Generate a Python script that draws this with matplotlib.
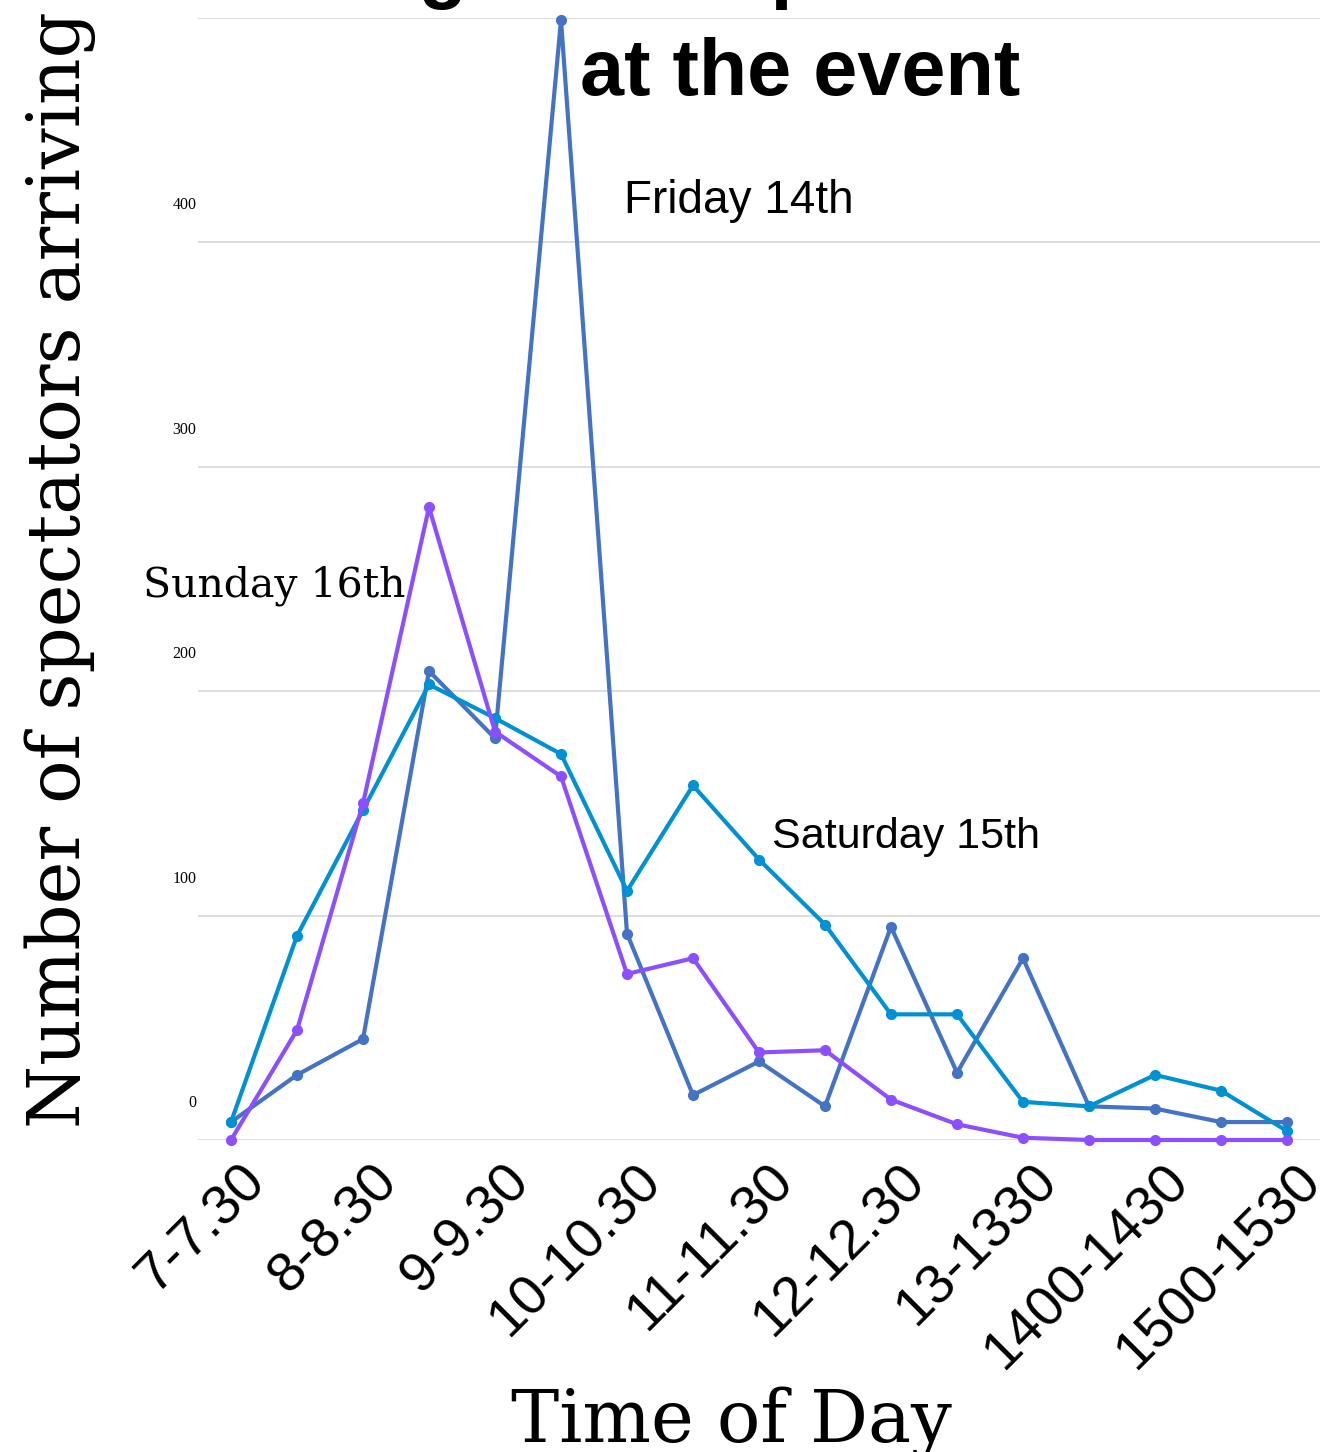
import numpy as np
import matplotlib
matplotlib.use("Agg")
import matplotlib.pyplot as plt
from matplotlib.transforms import ScaledTranslation

# time slots (every other one is labelled on the axis)
slots = ["7-7.30", "7.30-8", "8-8.30", "8.30-9", "9-9.30", "9.30-10",
         "10-10.30", "10.30-11", "11-11.30", "11.30-12", "12-12.30",
         "12.30-13", "13-1330", "1330-1400", "1400-1430", "1430-1500",
         "1500-1530"]
friday = [8, 29, 45, 209, 179, 499, 92, 20, 35, 15, 95, 30, 81, 15, 14, 8, 8]
saturday = [8, 91, 147, 203, 188, 172, 111, 158, 125, 96, 56, 56, 17, 15, 29, 22, 4]
sunday = [0, 49, 150, 282, 182, 162, 74, 81, 39, 40, 18, 7, 1, 0, 0, 0, 0]
yticks = [0, 100, 200, 300, 400]

C_FRI, C_SAT, C_SUN = "#4472C4", "#0091D5", "#8C4FFF"

fig = plt.figure(figsize=(13.22, 14.52), dpi=100)
ax = fig.add_axes([198 / 1322, 1 - 1140 / 1452, 1122 / 1322, 1122 / 1452])
x = np.arange(len(slots))

for vals, c in ((friday, C_FRI), (saturday, C_SAT), (sunday, C_SUN)):
    ax.plot(x, vals, color=c, lw=3.0, marker="o", ms=7, clip_on=False,
            solid_joinstyle="round", zorder=3)

ax.set_xlim(-0.5, len(slots) - 0.5)
ax.set_ylim(0, 500)
for s in ax.spines.values():
    s.set_visible(False)
ax.set_yticks(yticks + [500])
ax.set_yticklabels([str(v) for v in yticks] + [""], fontsize=11.5,
                   family="Liberation Serif")
ax.grid(axis="y", color="#d3d3d3", lw=1.1)
ax.tick_params(axis="y", length=0, pad=1)
off = ScaledTranslation(0, 0.39, fig.dpi_scale_trans)
for lb in ax.get_yticklabels():
    lb.set_transform(lb.get_transform() + off)

ax.set_xticks(x[::2])
ax.set_xticklabels(slots[::2], rotation=45, ha="right", va="top",
                   rotation_mode="anchor", fontsize=40, family="Liberation Sans")
ax.tick_params(axis="x", length=0, pad=12)
xoff = ScaledTranslation(0.08, 0.02, fig.dpi_scale_trans)
for lb in ax.get_xticklabels():
    lb.set_transform(lb.get_transform() + xoff)

# series labels
ax.text(5.95, 413, "Friday 14th", fontsize=33, family="Liberation Sans")
ax.text(8.2, 130, "Saturday 15th", fontsize=31, family="Liberation Sans")
ax.text(-1.34, 242, "Sunday 16th", fontsize=29.5, family="DejaVu Serif")

# axis titles
fig.text(731 / 1322, 1 - 1442 / 1452, "Time of Day", ha="center", va="baseline",
         fontsize=52, family="DejaVu Serif")
fig.text(60 / 1322, 1 - 570 / 1452, "Number of spectators arriving", rotation=90,
         ha="center", va="center", fontsize=52, family="DejaVu Serif")

# title (first line runs off the top of the canvas)
fig.text(209 / 1322, 1 + 7 / 1452, "Timing of the spectators", ha="left",
         va="baseline", fontsize=57, fontweight="bold", family="Liberation Sans")
fig.text(800 / 1322, 1 - 95 / 1452, "at the event", ha="center", va="baseline",
         fontsize=57, fontweight="bold", family="Liberation Sans")

fig.savefig("out.png", dpi=100)
